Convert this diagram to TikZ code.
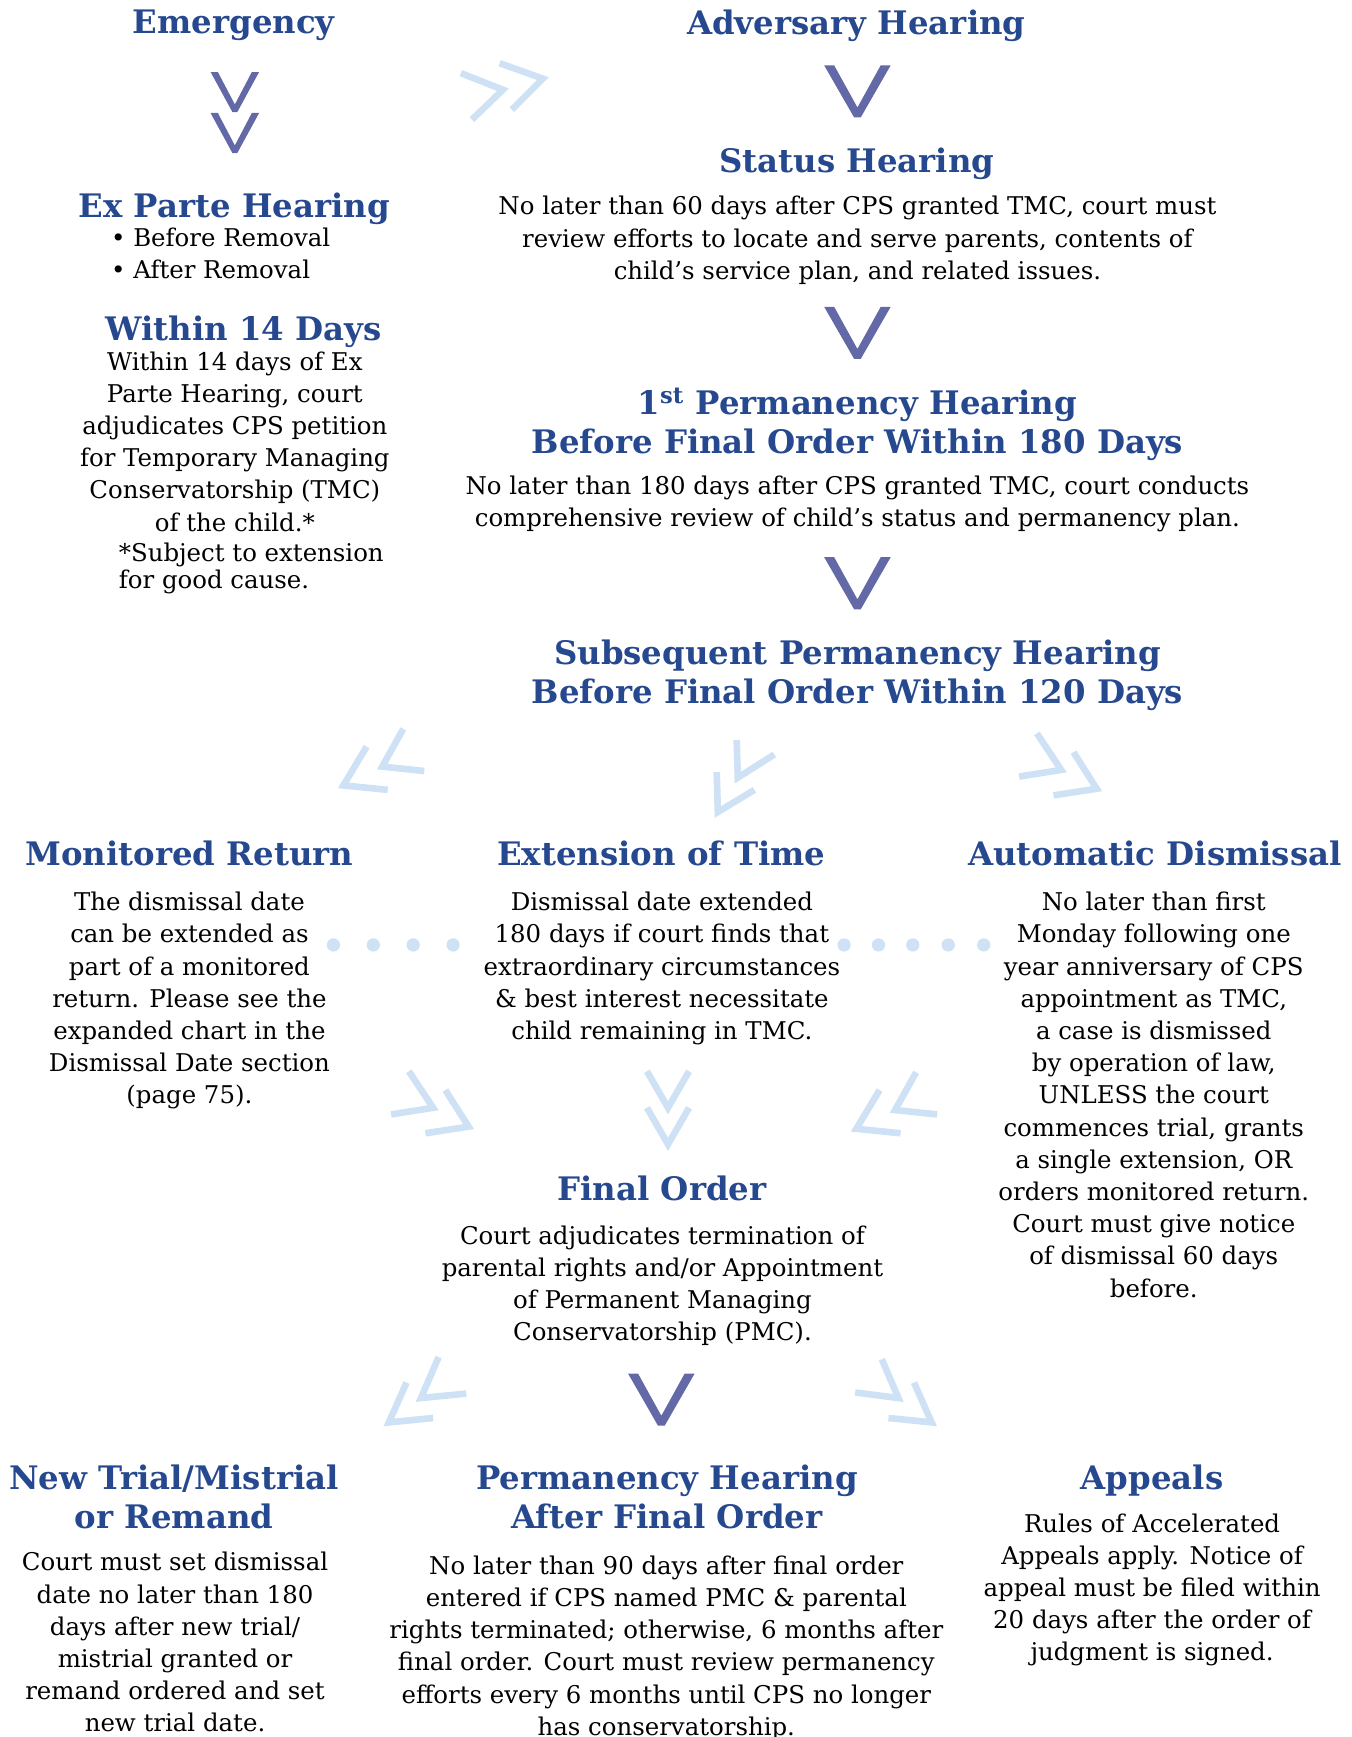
\documentclass[tikz,border=0pt]{standalone}
\usepackage{fontspec}
\setmainfont{DejaVu Serif}
\usepackage{xcolor}
\usepackage{tikz}

\definecolor{headblue}{RGB}{38,72,143}
\definecolor{vblue}{RGB}{99,104,166}
\definecolor{paleblue}{RGB}{207,226,245}

\begin{document}
\begin{tikzpicture}[x=0.022cm, y=-0.022cm,
    head/.style={font=\fontsize{18.3}{22}\selectfont\bfseries, text=headblue, align=center, inner sep=0pt, anchor=north},
    body/.style={font=\fontsize{13.8}{18.2}\selectfont, align=center, inner sep=0pt, anchor=north},
    pale/.style={draw=paleblue, line width=0.132cm, line join=miter},
    darkv/.pic={\fill[vblue] (-30,0) -- (-21,0) -- (0,38) -- (21,0) -- (30,0) -- (3,47) -- (-3,47) -- cycle;}]
    \useasboundingbox (0,0) rectangle (1220,1568);

    % left column
    \node[head] (emerg) at (211,9) {Emergency};
    \pic[xscale=0.73, yscale=0.77] at (212,65) {darkv};
    \pic[xscale=0.73, yscale=0.77] at (212,102) {darkv};
    \node[head] (exparte) at (211.5,174) {Ex Parte Hearing};
    \node[body, anchor=north west, align=left] (removal) at (100,205) {\textbullet~Before Removal\\ \textbullet~After Removal};
    \node[head] (within) at (220,285) {Within 14 Days};
    \node[body] (withinbody) at (212,317) {Within 14 days of Ex\\ Parte Hearing, court\\ adjudicates CPS petition\\ for Temporary Managing\\ Conservatorship (TMC)\\ of the child.*};
    \node[body, anchor=north west, align=left, font=\fontsize{13.8}{15}\selectfont] (cause) at (107,490) {*Subject to extension\\ for good cause.};

    % right column
    \node[head] (advers) at (773,9) {Adversary Hearing};
    \pic at (774,59) {darkv};
    \node[head] (status) at (773.5,133) {Status Hearing};
    \node[body] (statusbody) at (774,177) {No later than 60 days after CPS granted TMC, court must\\ review efforts to locate and serve parents, contents of\\ child’s service plan, and related issues.};
    \pic at (774,277) {darkv};
    \node[head] (firstperm) at (774,350) {1\textsuperscript{st} Permanency Hearing\\ Before Final Order Within 180 Days};
    \node[body] (firstbody) at (774,429) {No later than 180 days after CPS granted TMC, court conducts\\ comprehensive review of child’s status and permanency plan.};
    \pic at (774,503) {darkv};
    \node[head] (subseq) at (774,577) {Subsequent Permanency Hearing\\ Before Final Order Within 120 Days};

    % middle row
    \node[head] (monitored) at (171,759) {Monitored Return};
    \node[body] (monbody) at (171,805) {The dismissal date\\ can be extended as\\ part of a monitored\\ return. Please see the\\ expanded chart in the\\ Dismissal Date section\\ (page 75).};
    \node[head] (extension) at (597,759) {Extension of Time};
    \node[body] (extbody) at (597.5,805) {Dismissal date extended\\ 180 days if court finds that\\ extraordinary circumstances\\ \& best interest necessitate\\ child remaining in TMC.};
    \node[head] (automatic) at (1042.5,759) {Automatic Dismissal};
    \node[body] (autobody) at (1041.5,805) {No later than first\\ Monday following one\\ year anniversary of CPS\\ appointment as TMC,\\ a case is dismissed\\ by operation of law,\\ UNLESS the court\\ commences trial, grants\\ a single extension, OR\\ orders monitored return.\\ Court must give notice\\ of dismissal 60 days\\ before.};

    % dots
    \fill[paleblue] (301,853) circle[radius=0.132cm];
    \fill[paleblue] (337,853) circle[radius=0.132cm];
    \fill[paleblue] (373,853) circle[radius=0.132cm];
    \fill[paleblue] (409,853) circle[radius=0.132cm];
    \fill[paleblue] (762,853) circle[radius=0.132cm];
    \fill[paleblue] (793,853) circle[radius=0.132cm];
    \fill[paleblue] (824,853) circle[radius=0.132cm];
    \fill[paleblue] (856,853) circle[radius=0.132cm];
    \fill[paleblue] (888,853) circle[radius=0.132cm];

    \node[head] (final) at (597.5,1061) {Final Order};
    \node[body] (finalbody) at (598,1106) {Court adjudicates termination of\\ parental rights and/or Appointment\\ of Permanent Managing\\ Conservatorship (PMC).};

    % bottom row
    \node[head] (newtrial) at (157,1322) {New Trial/Mistrial\\ or Remand};
    \node[body] (newbody) at (158,1401) {Court must set dismissal\\ date no later than 180\\ days after new trial/\\ mistrial granted or\\ remand ordered and set\\ new trial date.};
    \node[head] (permafter) at (602,1322) {Permanency Hearing\\ After Final Order};
    \node[body] (permbody) at (601.5,1404) {No later than 90 days after final order\\ entered if CPS named PMC \& parental\\ rights terminated; otherwise, 6 months after\\ final order. Court must review permanency\\ efforts every 6 months until CPS no longer\\ has conservatorship.};
    \node[head] (appeals) at (1040,1322) {Appeals};
    \node[body] (appealbody) at (1040,1366) {Rules of Accelerated\\ Appeals apply. Notice of\\ appeal must be filed within\\ 20 days after the order of\\ judgment is signed.};

    % pale chevrons
    \draw[pale] (416,66) -- (454,81) -- (426,108);
    \draw[pale] (451,57) -- (490,71) -- (462,99);

    \draw[pale] (364,658) -- (345,692) -- (383,696);
    \draw[pale] (331,674) -- (310,709) -- (350,713);
    \draw[pale] (665,668) -- (666,702) -- (699,681);
    \draw[pale] (647,697) -- (648,733) -- (681,713);
    \draw[pale] (936,662) -- (958,695) -- (920,701);
    \draw[pale] (969,679) -- (990,712) -- (951,718);

    \draw[pale] (369,967) -- (391,1000) -- (353,1006);
    \draw[pale] (402,984) -- (423,1017) -- (384,1023);
    \draw[pale] (584,967) -- (603,1000) -- (622,967);
    \draw[pale] (584,1000) -- (603,1033) -- (622,1000);
    \draw[pale] (827,968) -- (808,1002) -- (846,1006);
    \draw[pale] (794,984) -- (773,1019) -- (813,1023);

    \draw[pale] (396,1225) -- (380,1262) -- (421,1258);
    \draw[pale] (367,1248) -- (351,1284) -- (391,1280);
    \pic at (597,1240) {darkv};
    \draw[pale] (796,1227) -- (811,1262) -- (772,1257);
    \draw[pale] (825,1248) -- (841,1284) -- (802,1280);
\end{tikzpicture}
\end{document}
